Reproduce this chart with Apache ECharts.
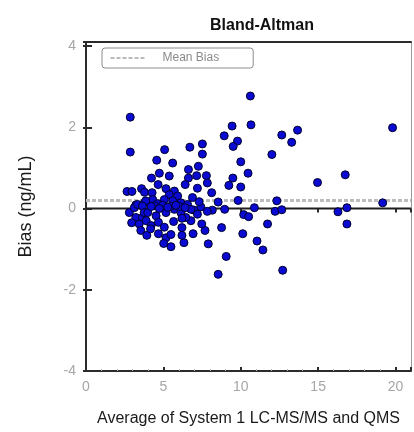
<!DOCTYPE html>
<html>
<head>
<meta charset="utf-8">
<script src="https://cdn.jsdelivr.net/npm/echarts@6/dist/echarts.min.js"></script>
<style>
  html, body { margin: 0; padding: 0; background: #fff; }
  #chart { width: 414px; height: 432px; }
</style>
</head>
<body>
<div id="chart"></div>
<script>
// Average of the two methods (x) and their difference (y) for each sample
const averages = [
  2.86, 2.86, 5.08, 6.71, 7.52, 4.57, 5.60, 7.52, 7.26, 6.62,
  4.74, 4.23, 5.38, 7.15, 6.62, 7.78, 4.66, 6.41, 7.84, 7.20,
  3.59, 2.65, 2.97, 8.12, 8.93, 9.44, 10.66, 10.62, 9.79, 9.51,
  10.00, 10.47, 9.49, 9.23, 10.00, 12.01, 12.65, 13.29, 13.67, 19.81,
  14.96, 16.75, 9.83, 8.54, 12.33, 19.17, 16.86, 16.28, 16.86, 12.22,
  12.65, 10.88, 10.19, 10.51, 8.96, 11.73, 10.13, 11.05, 11.43, 9.06,
  8.54, 12.71, 8.76, 7.90, 7.69, 7.48, 6.92, 6.33, 6.20, 6.20,
  6.78, 6.45, 8.16, 7.84, 7.42, 6.99, 6.88, 7.31,
  3.78, 4.27, 5.17, 5.71, 5.38, 5.92, 4.31, 5.06, 3.78, 4.63,
  5.60, 6.13, 6.56, 3.22, 3.86, 2.80, 3.12, 3.33, 3.65, 3.22,
  3.65, 2.95, 3.44, 3.54, 3.93, 3.76, 3.99, 4.53, 5.17, 5.71,
  6.13, 6.78, 7.20, 4.42, 4.94, 5.51, 6.03, 6.40, 3.89, 4.21,
  4.68, 5.06, 5.66, 6.20, 4.68, 5.17, 5.49, 5.02, 5.49, 4.17,
  4.21, 5.28, 5.81, 4.74
];
const biases = [
  2.25, 1.39, 1.45, 1.51, 1.59, 1.19, 1.12, 1.34, 1.04, 0.96,
  0.87, 0.75, 0.80, 0.81, 0.75, 0.81, 0.59, 0.59, 0.63, 0.50,
  0.49, 0.42, 0.42, 0.39, 1.79, 2.03, 2.06, 2.77, 1.66, 1.53,
  1.15, 0.87, 0.75, 0.57, 0.53, 1.33, 1.81, 1.63, 1.93, 1.99,
  0.64, 0.83, 0.20, 0.16, 0.19, 0.14, 0.02, -0.08, -0.38, -0.07,
  -0.03, 0.02, -0.15, -0.20, -0.02, -0.38, -0.62, -0.80, -1.02, -1.18,
  -1.62, -1.52, -0.47, -0.87, -0.54, -0.38, -0.62, -0.84, -0.66, -0.47,
  -0.30, -0.22, -0.04, -0.07, 0.04, -0.04, 0.27, 0.17,
  0.40, 0.39, 0.49, 0.43, 0.34, 0.31, 0.22, 0.22, 0.14, 0.12,
  0.19, 0.14, 0.10, 0.09, 0.19, -0.10, 0.02, 0.10, 0.06, -0.22,
  -0.22, -0.35, -0.38, -0.54, -0.66, -0.10, -0.10, -0.18, -0.10, -0.02,
  -0.10, -0.02, -0.14, 0.07, 0.08, 0.06, 0.05, 0.02, -0.30, -0.42,
  -0.34, -0.46, -0.32, -0.24, -0.62, -0.72, -0.64, -0.86, -0.94, -0.50,
  0.05, 0.03, 0.08, 0.00
];
const meanBias = 0.2;
const xRange = [0, 21];
const yRange = [-4, 4.1];
const xTickStep = 5;
const yTickStep = 2;

const points = averages.map((a, i) => [a, biases[i]]);

const sans = "'Liberation Sans', Arial, sans-serif";
const tickFmt = step => v => (Math.abs(v / step - Math.round(v / step)) < 1e-9 ? String(v) : '');

const chart = echarts.init(document.getElementById('chart'), null, { renderer: 'canvas' });

chart.setOption({
  animation: false,
  backgroundColor: '#fff',
  title: {
    text: 'Bland-Altman',
    left: 205, top: 13,
    textStyle: { fontFamily: sans, fontWeight: 'bold', fontSize: 16, color: '#111' }
  },
  legend: {
    data: ['Mean Bias'],
    left: 102, top: 48,
    orient: 'horizontal',
    itemWidth: 35, itemHeight: 10,
    padding: [4, 34, 4, 8],
    borderColor: '#8c8c8c', borderWidth: 1, borderRadius: 3,
    itemStyle: { opacity: 0 },
    lineStyle: { color: '#777', width: 1, type: [4, 2], opacity: 1 },
    textStyle: { fontFamily: sans, fontSize: 12, color: '#8a8a8a', padding: [0, 0, 0, 12] },
    selectedMode: false
  },
  grid: { left: 86, right: 1, top: 42, bottom: 54, containLabel: false },
  xAxis: [
    {
      type: 'value', min: xRange[0], max: xRange[1], interval: xTickStep,
      name: 'Average of System 1 LC-MS/MS and QMS',
      nameLocation: 'middle', nameGap: 40,
      nameTextStyle: { fontFamily: sans, fontSize: 16, color: '#1a1a1a' },
      axisLine: { show: true, onZero: false, lineStyle: { color: '#2b2b2b', width: 2 } },
      axisTick: { show: true, inside: true, length: 4, lineStyle: { color: '#2b2b2b', width: 2 } },
      minorTick: { show: true, splitNumber: 5, length: 2, lineStyle: { color: '#bbb', width: 1 } },
      axisLabel: { margin: 9, fontFamily: sans, fontSize: 14, color: '#a6a6a6', formatter: tickFmt(xTickStep) },
      splitLine: { show: false }
    },
    {
      // outward half of the crossing ticks
      type: 'value', min: xRange[0], max: xRange[1], interval: xTickStep, position: 'bottom',
      axisLine: { show: false }, axisLabel: { show: false }, splitLine: { show: false },
      axisTick: { show: true, inside: false, length: 4, lineStyle: { color: '#2b2b2b', width: 2 } }
    },
    {
      // top frame
      type: 'value', min: xRange[0], max: xRange[1], position: 'top',
      axisLine: { show: true, onZero: false, lineStyle: { color: '#2b2b2b', width: 2 } },
      axisTick: { show: false }, axisLabel: { show: false }, splitLine: { show: false }
    }
  ],
  yAxis: [
    {
      type: 'value', min: yRange[0], max: yRange[1], interval: yTickStep,
      name: 'Bias (ng/mL)',
      nameLocation: 'middle', nameGap: 51, nameRotate: 90,
      nameTextStyle: { fontFamily: sans, fontSize: 18, color: '#1a1a1a' },
      axisLine: { show: true, onZero: false, lineStyle: { color: '#2b2b2b', width: 2 } },
      axisTick: { show: true, inside: true, length: 6, lineStyle: { color: '#2b2b2b', width: 2 } },
      axisLabel: { margin: 10, fontFamily: sans, fontSize: 14, color: '#a6a6a6', formatter: tickFmt(yTickStep) },
      splitLine: { show: false }
    },
    {
      type: 'value', min: yRange[0], max: yRange[1], interval: yTickStep, position: 'left',
      axisLine: { show: false }, axisLabel: { show: false }, splitLine: { show: false },
      axisTick: { show: true, inside: false, length: 3, lineStyle: { color: '#2b2b2b', width: 2 } }
    },
    {
      // right frame
      type: 'value', min: yRange[0], max: yRange[1], position: 'right',
      axisLine: { show: true, onZero: false, lineStyle: { color: '#9a9a9a', width: 1 } },
      axisTick: { show: false }, axisLabel: { show: false }, splitLine: { show: false }
    }
  ],
  series: [
    {
      name: 'Mean Bias',
      type: 'line',
      data: [[xRange[0], meanBias], [xRange[1], meanBias]],
      symbol: 'none',
      lineStyle: { color: '#bdbdbd', width: 3, type: [4, 2] },
      z: 2, silent: true
    },
    {
      name: 'Zero',
      type: 'line',
      data: [[xRange[0], 0], [xRange[1], 0]],
      symbol: 'none',
      lineStyle: { color: '#1e1e1e', width: 2 },
      z: 3, silent: true
    },
    {
      name: 'Samples',
      type: 'scatter',
      data: points,
      symbol: 'circle',
      symbolSize: 8,
      itemStyle: { color: '#0a0ad2', opacity: 1, borderColor: '#00002e', borderWidth: 1 },
      z: 5
    }
  ]
});
</script>
</body>
</html>
